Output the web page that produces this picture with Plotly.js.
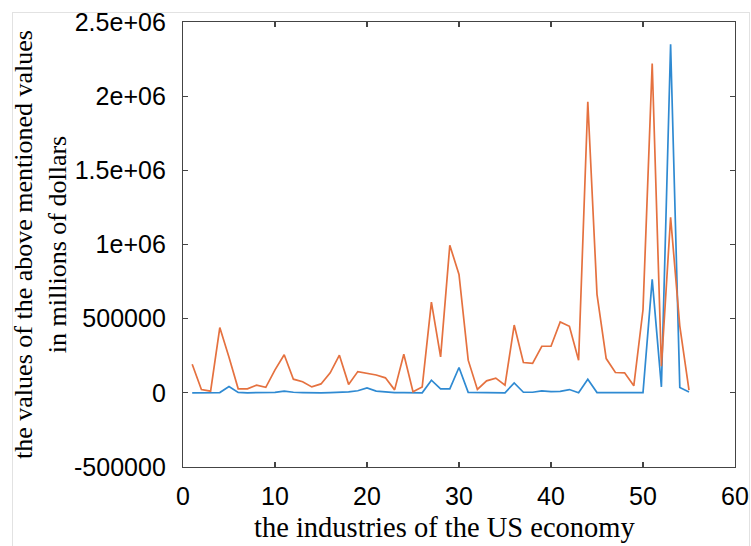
<!DOCTYPE html>
<html>
<head>
<meta charset="utf-8">
<script src="https://cdn.plot.ly/plotly-3.0.1.min.js"></script>
<style>
  html, body { margin: 0; padding: 0; background: #ffffff; }
  #frame { position: absolute; left: 12px; top: 12px; width: 736px; height: 560px;
           border: 1px solid #e2e2e2; pointer-events: none; }
  #chart { position: absolute; left: 0; top: 0; width: 751px; height: 546px; }
</style>
</head>
<body>
<div id="chart"></div>
<div id="frame"></div>
<script>
// Industry index (x)
const industries = [1,2,3,4,5,6,7,8,9,10,11,12,13,14,15,16,17,18,19,20,21,22,23,24,25,26,27,28,29,30,31,32,33,34,35,36,37,38,39,40,41,42,43,44,45,46,47,48,49,50,51,52,53,54,55];

// First series (blue)
const seriesBlue = [0,0,0,2000,42000,3000,0,2000,0,3000,12000,4000,2000,0,0,2000,4000,6000,14000,33000,12000,6000,2000,2000,1000,0,85000,27000,27000,171000,3000,3000,3000,0,0,67000,4000,4000,13000,8000,10000,22000,1000,92000,2000,2000,2000,1000,0,1000,765000,40000,2350000,36000,5000];

// Second series (orange)
const seriesOrange = [193000,22000,11000,440000,240000,27000,27000,52000,37000,155000,257000,92000,75000,40000,60000,135000,254000,57000,143000,130000,120000,101000,20000,260000,7000,40000,612000,242000,995000,798000,220000,23000,81000,99000,52000,457000,204000,198000,314000,314000,478000,449000,220000,1962000,664000,231000,137000,135000,47000,560000,2220000,180000,1184000,450000,18000];

// Tick labels
const xTickVals = [0,10,20,30,40,50,60];
const yTickVals = [-500000,0,500000,1000000,1500000,2000000,2500000];
const yTickText = ['-500000','0','500000','1e+06','1.5e+06','2e+06','2.5e+06'];

const xTitle = 'the industries of the US economy';
const yTitle = 'the values of the above mentioned values<br>in millions of dollars';

const traces = [
  { x: industries, y: seriesBlue, type: 'scatter', mode: 'lines',
    line: { color: '#2f8ad2', width: 1.7 }, showlegend: false, hoverinfo: 'x+y' },
  { x: industries, y: seriesOrange, type: 'scatter', mode: 'lines',
    line: { color: '#e5713f', width: 1.7 }, showlegend: false, hoverinfo: 'x+y' }
];

const tickFont = { family: 'Liberation Sans, Arial, Helvetica, sans-serif', size: 25, color: '#000000' };
const xTitleFont = { family: 'Liberation Serif, Times New Roman, serif', size: 28.5, color: '#000000' };
const yTitleFont = { family: 'Liberation Serif, Times New Roman, serif', size: 26, color: '#000000' };

const layout = {
  width: 751, height: 546,
  margin: { l: 183, r: 16, t: 22, b: 79, pad: 0 },
  paper_bgcolor: 'rgba(0,0,0,0)',
  plot_bgcolor: '#ffffff',
  showlegend: false,
  xaxis: {
    range: [0, 60], tickvals: xTickVals, ticktext: xTickVals.map(String),
    showgrid: false, zeroline: false,
    showline: true, linecolor: '#444444', linewidth: 1.2, mirror: 'ticks',
    ticks: 'inside', ticklen: 5, tickwidth: 1.2, tickcolor: '#444444',
    tickfont: tickFont, ticklabelstandoff: 7,
    automargin: false
  },
  yaxis: {
    range: [-500000, 2500000], tickvals: yTickVals, ticktext: yTickText,
    showgrid: false, zeroline: false,
    showline: true, linecolor: '#444444', linewidth: 1.2, mirror: 'ticks',
    ticks: 'inside', ticklen: 5, tickwidth: 1.2, tickcolor: '#444444',
    tickfont: tickFont, ticklabelstandoff: 11,
    title: { text: yTitle, font: yTitleFont, standoff: 0 },
    automargin: false
  },
  annotations: [
    { text: xTitle, font: xTitleFont, xref: 'paper', yref: 'paper',
      x: 0.473, y: -0.135, xanchor: 'center', yanchor: 'middle', showarrow: false }
  ]
};

Plotly.newPlot('chart', traces, layout, { displayModeBar: false, staticPlot: true });
</script>
</body>
</html>
